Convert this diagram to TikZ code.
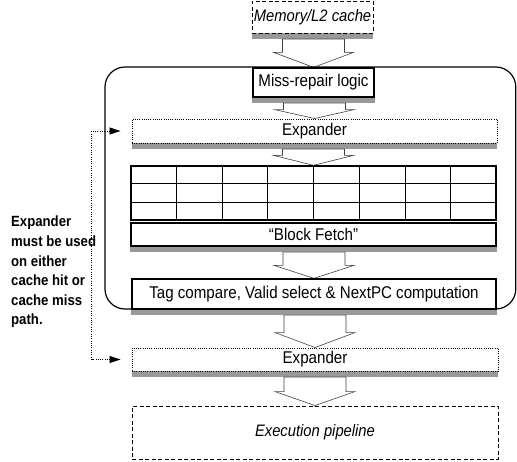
\documentclass[tikz,border=0pt]{standalone}
\usepackage{fontspec}
\setmainfont{Liberation Sans}[FakeStretch=0.89]
\usetikzlibrary{arrows.meta,calc,backgrounds}
\newcommand{\blockarrow}[3]{%
  \draw[barrowstyle] ($(#2.north |- #1.south)+(-31,5.5)$) -- ($(#2.north)+(-31,-#3)$) -- ($(#2.north)+(-40,-#3)$) -- (#2.north) -- ($(#2.north)+(40,-#3)$) -- ($(#2.north)+(31,-#3)$) -- ($(#2.north |- #1.south)+(31,5.5)$) -- cycle;}
\begin{document}
\begin{tikzpicture}[x=1pt,y=-1pt,
  box/.style={draw=black, line width=1.3pt, fill=white, rectangle, inner sep=0pt, font=\fontsize{17}{20}\selectfont},
  dotbox/.style={box, line width=0.9pt, dash pattern=on 0.9pt off 1.3pt},
  dashbox/.style={box, line width=0.9pt, dash pattern=on 4pt off 2.5pt, font=\fontsize{16.6}{20}\selectfont\itshape},
  shadowc/.style={fill=black!40},
  barrowstyle/.style={draw=black!75, line width=0.6pt, fill=white, line join=miter},
  fb/.style={line width=0.8pt, dash pattern=on 0.8pt off 1.5pt, {Triangle[length=11pt,width=7pt]}-{Triangle[length=11pt,width=7pt]}},
  note/.style={anchor=west, align=left, inner sep=0pt, font=\fontsize{14.8}{19.6}\selectfont\bfseries},
  grid/.style={line width=0.8pt}
]
\useasboundingbox (0,0) rectangle (517,461);

% enclosing rounded frame
\draw[line width=1.2pt, rounded corners=20pt] (105,67) rectangle (515.8,309);

% boxes
\node[dashbox, minimum width=121pt, minimum height=32pt] (mem) at (312.5,17) {Memory/L2 cache};
\node[box, minimum width=121pt, minimum height=29pt] (miss) at (313.5,82.5) {Miss-repair logic};
\node[dotbox, minimum width=365pt, minimum height=24pt] (exp1) at (314.5,131) {Expander};
\node[box, minimum width=365pt, minimum height=54pt] (tbl) at (313.5,193) {};
\node[box, minimum width=365pt, minimum height=23pt] (bf) at (313.5,234.5) {“Block Fetch”};
\node[box, minimum width=364pt, minimum height=30pt] (tag) at (314,294) {Tag compare, Valid select \& NextPC computation};
\node[dotbox, minimum width=366pt, minimum height=23pt] (exp2) at (315,359.5) {Expander};
\node[dashbox, minimum width=366pt, minimum height=53pt] (exec) at (315,432.5) {Execution pipeline};

% table grid
\foreach \i in {1,...,7}
  \draw[grid] ($(tbl.north west)!\i/8!(tbl.north east)$) -- ($(tbl.south west)!\i/8!(tbl.south east)$);
\foreach \i in {1,2}
  \draw[grid] ($(tbl.north west)!\i/3!(tbl.south west)$) -- ($(tbl.north east)!\i/3!(tbl.south east)$);

% shadows and block arrows
\begin{scope}[on background layer]
  \foreach \n in {mem,miss,exp1,bf,tag,exp2}
    \fill[shadowc] (\n.south west) rectangle ([yshift=-5.5pt]\n.south east);
  \blockarrow{mem}{miss}{15}
  \blockarrow{miss}{exp1}{9}
  \blockarrow{exp1}{tbl}{10}
  \blockarrow{bf}{tag}{13}
  \blockarrow{tag}{exp2}{15}
  \blockarrow{exp2}{exec}{14}
\end{scope}

% feedback connector
\coordinate (fbtop) at ([xshift=-11pt]exp1.west);
\coordinate (fbbot) at ([xshift=-11pt]exp2.west);
\draw[fb] (fbtop) -- ([xshift=-40pt]exp1.west) |- (fbbot);

% note
\node[note] (notetext) at (11,272) {Expander\\must be used\\on either\\cache hit or\\cache miss\\path.};
\end{tikzpicture}
\end{document}
